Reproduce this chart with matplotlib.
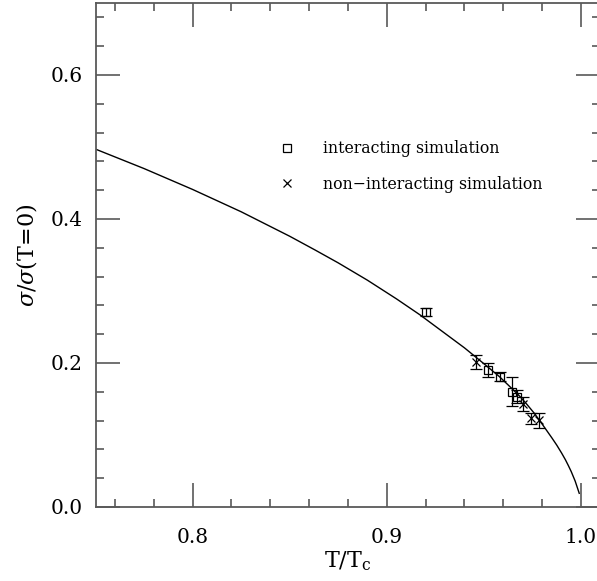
import matplotlib
matplotlib.use("Agg")
import matplotlib.pyplot as plt
from matplotlib.lines import Line2D
from matplotlib.ticker import MultipleLocator

# interacting simulation (squares)
t_int = [0.9202, 0.9523, 0.9583, 0.9645, 0.9668]
s_int = [0.271, 0.1907, 0.181, 0.160, 0.153]
e_int = [0.006, 0.0095, 0.006, 0.020, 0.009]

# non-interacting simulation (crosses)
t_non = [0.9459, 0.9699, 0.9742, 0.9785]
s_non = [0.2008, 0.1433, 0.1234, 0.1202]
e_non = [0.0097, 0.0095, 0.0078, 0.0101]

# theory curve
t_curve = [0.750, 0.775, 0.800, 0.825, 0.850, 0.863, 0.875, 0.890, 0.905,
           0.917, 0.930, 0.940, 0.950, 0.958, 0.965, 0.9686, 0.972, 0.976,
           0.9789, 0.982, 0.985, 0.9875, 0.990, 0.992, 0.9935, 0.995,
           0.997, 0.9991]
s_curve = [0.497, 0.470, 0.441, 0.410, 0.376, 0.357, 0.339, 0.315, 0.289,
           0.267, 0.241, 0.221, 0.199, 0.181, 0.163, 0.1534, 0.143, 0.130,
           0.1193, 0.1075, 0.0960, 0.0860, 0.0750, 0.0655, 0.0575, 0.049,
           0.036, 0.019]

plt.rcParams['font.family'] = ['DejaVu Serif']
plt.rcParams['mathtext.fontset'] = 'dejavuserif'

fig = plt.figure(figsize=(5.97, 5.81), dpi=100)
ax = fig.add_axes([0.16, 0.1274, 0.8457, 0.8675])

ax.plot(t_curve, s_curve, color='black', lw=1.0)
ax.errorbar(t_int, s_int, yerr=e_int, fmt='s', mfc='none', mec='black',
            ms=5.5, mew=0.9, ecolor='black', elinewidth=0.9, capsize=4.5,
            capthick=0.9)
ax.errorbar(t_non, s_non, yerr=e_non, fmt='x', color='black',
            ms=5.5, mew=0.9, ecolor='black', elinewidth=0.9, capsize=4.5,
            capthick=0.9)

handles = [Line2D([], [], ls='none', marker='s', mfc='none', mec='black', ms=5.5, mew=0.9),
           Line2D([], [], ls='none', marker='x', color='black', ms=5.5, mew=0.9)]
ax.legend(handles, ['interacting simulation', 'non\u2212interacting simulation'],
          loc='upper left', bbox_to_anchor=(0.3513, 0.7397), frameon=False,
          fontsize=11.3, handlelength=1.0, handletextpad=1.78,
          labelspacing=1.17, borderaxespad=0.0)

ax.set_xlim(0.75, 1.01)
ax.set_ylim(0.0, 0.7)
ax.xaxis.set_major_locator(MultipleLocator(0.1))
ax.xaxis.set_minor_locator(MultipleLocator(0.02))
ax.yaxis.set_major_locator(MultipleLocator(0.2))
ax.yaxis.set_minor_locator(MultipleLocator(0.04))

ax.tick_params(which='both', direction='in', top=True, right=True,
               color='0.35', width=1.2, labelsize=14.5)
ax.tick_params(which='major', length=17)
ax.tick_params(which='minor', length=6)
ax.tick_params(axis='x', pad=15)
ax.tick_params(axis='y', pad=9)
for sp in ax.spines.values():
    sp.set_color('0.35')
    sp.set_linewidth(1.3)

ax.set_xlabel(r'T/T$_\mathrm{c}$', fontsize=16, labelpad=2)
ax.set_ylabel(r'$\sigma$/$\sigma$(T=0)', fontsize=16, labelpad=8.5)

fig.savefig('out.png', dpi=100)
